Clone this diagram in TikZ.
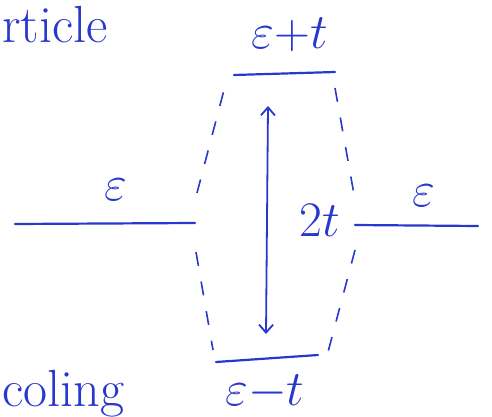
\documentclass[tikz,border=0pt]{standalone}
\usepackage{graphicx}
\usetikzlibrary{arrows.meta}
\definecolor{pen}{RGB}{40,55,205}
\newcommand{\bigmath}[1]{\scalebox{2.0}{\Huge #1}}
\newcommand{\bigword}[1]{\scalebox{2.1}{\Huge #1}}
\begin{document}
\begin{tikzpicture}[x=1pt,y=-1pt,
  lvl/.style={draw=pen,line width=2.2pt,line cap=round},
  conn/.style={draw=pen,line width=1.6pt,dash pattern=on 14pt off 16pt},
  lbl/.style={text=pen,inner sep=0pt}]
\useasboundingbox (0,0) rectangle (492,417);
% level end points
\coordinate (l1) at (15,224); \coordinate (l2) at (195,223);
\coordinate (r1) at (355,225); \coordinate (r2) at (478,226);
\coordinate (t1) at (234,75); \coordinate (t2) at (335,72);
\coordinate (b1) at (216,362); \coordinate (b2) at (318,355);
\draw[lvl] (l1) -- (l2);
\draw[lvl] (r1) -- (r2);
\draw[lvl] (t1) -- (t2);
\draw[lvl] (b1) -- (b2);
% dashed connectors
\draw[conn] (197,193) -- (224,90);
\draw[conn] (196,252) -- (213,350);
\draw[conn] (335,88) -- (355,200);
\draw[conn] (355,250) -- (328,352);
% splitting arrow
\coordinate (aT) at (268,106); \coordinate (aB) at (266,334);
\draw[draw=pen,line width=1.8pt,{Straight Barb[length=8pt,width=14pt]}-{Straight Barb[length=8pt,width=14pt]}] (aT) -- (aB);
% labels
\node[lbl] (eL) at (116,190) {\bigmath{$\varepsilon$}};
\node[lbl] (eR) at (424,196) {\bigmath{$\varepsilon$}};
\node[lbl] (eT) at (290,35) {\bigmath{$\varepsilon{+}t$}};
\node[lbl] (eB) at (265,392) {\bigmath{$\varepsilon{-}t$}};
\node[lbl] (tt) at (320,220) {\bigmath{$2t$}};
\node[lbl,anchor=west] (w1) at (2,25) {\bigword{rticle}};
\node[lbl,anchor=west] (w2) at (2,394) {\bigword{coling}};
\end{tikzpicture}
\end{document}
